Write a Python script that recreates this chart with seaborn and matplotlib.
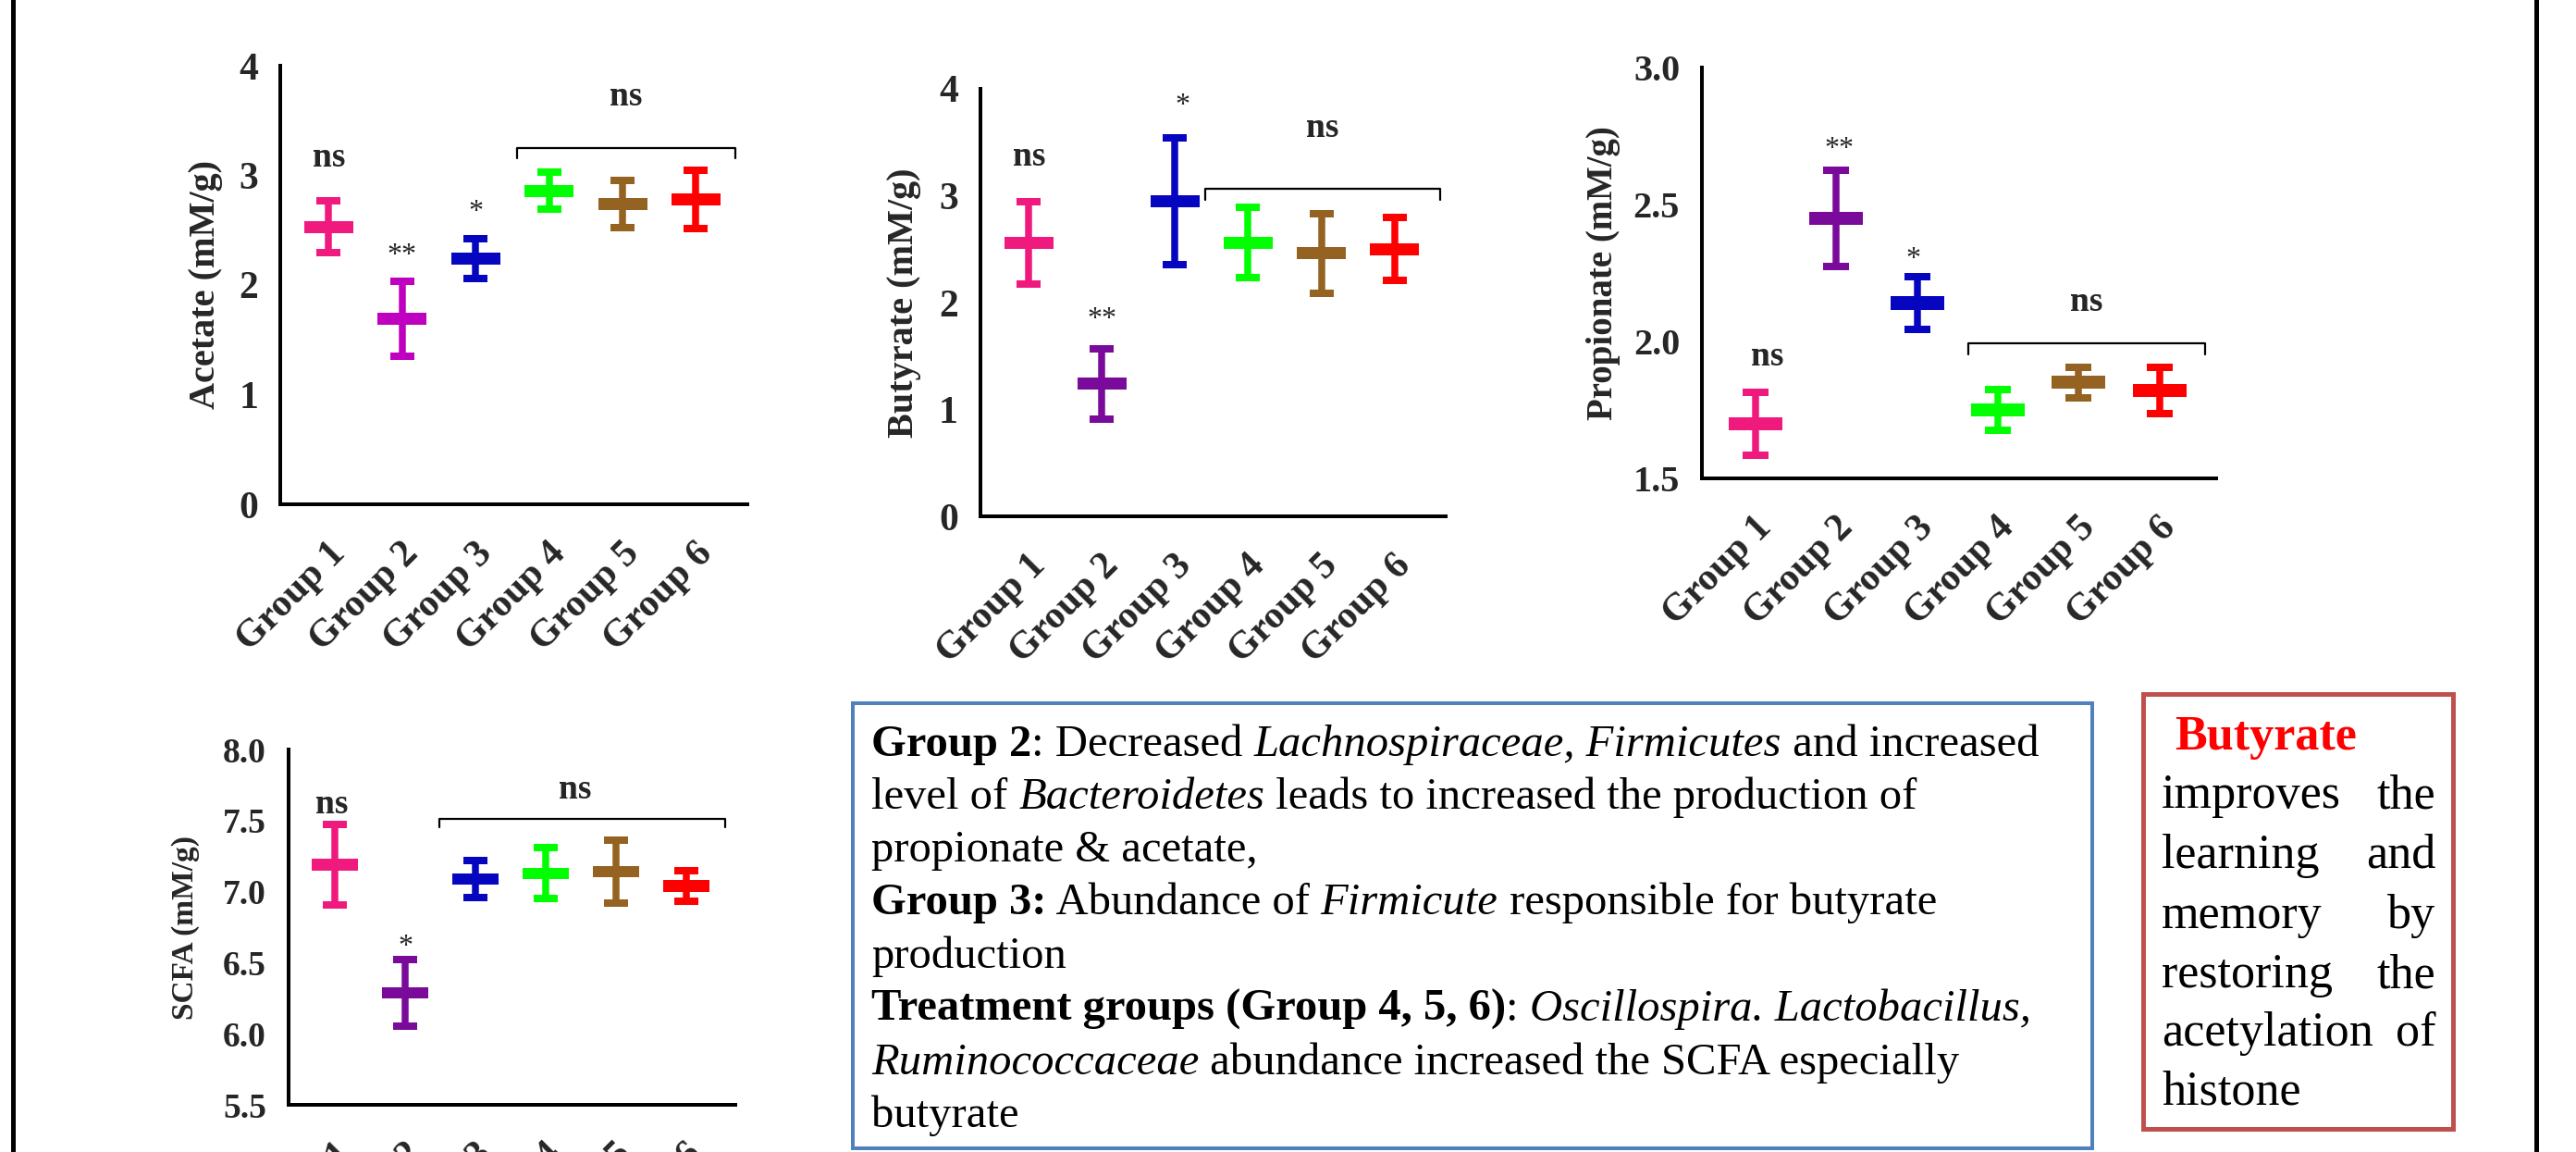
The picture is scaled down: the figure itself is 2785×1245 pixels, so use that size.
import numpy as np
import pandas as pd
import matplotlib
matplotlib.use("Agg")
import matplotlib.pyplot as plt
import seaborn as sns
from matplotlib.lines import Line2D
from matplotlib.patches import Rectangle
from matplotlib.transforms import ScaledTranslation

# ---------------- data ----------------
groups = ["Group 1", "Group 2", "Group 3", "Group 4", "Group 5", "Group 6"]

acetate_mean = [2.53, 1.69, 2.24, 2.86, 2.74, 2.78]
acetate_err = [0.235, 0.34, 0.18, 0.17, 0.215, 0.265]
acetate_colors = ["#F01A7E", "#C000C0", "#0606C0", "#00FF00", "#946221", "#FF0000"]

butyrate_mean = [2.56, 1.24, 2.95, 2.56, 2.46, 2.50]
butyrate_err = [0.385, 0.33, 0.595, 0.33, 0.375, 0.295]

propionate_mean = [1.70, 2.45, 2.14, 1.75, 1.85, 1.82]
propionate_err = [0.115, 0.175, 0.095, 0.075, 0.055, 0.085]

scfa_mean = [7.19, 6.29, 7.09, 7.13, 7.14, 7.04]
scfa_err = [0.285, 0.235, 0.13, 0.18, 0.22, 0.11]

purple_colors = ["#F01A7E", "#7A0A9A", "#0606C0", "#00FF00", "#946221", "#FF0000"]

acetate_yticks = [0, 1, 2, 3, 4]
butyrate_yticks = [0, 1, 2, 3, 4]
propionate_yticks = [1.5, 2.0, 2.5, 3.0]
scfa_yticks = [5.5, 6.0, 6.5, 7.0, 7.5, 8.0]

# significance labels: (x position index, y value, text)
acetate_sig = [(0, 3.16, "ns"), (1, 2.27, "**"), (2, 2.66, "*"), (4.05, 3.72, "ns")]
acetate_bracket = (2.56, 5.54, 3.25, 3.16)
butyrate_sig = [(0, 3.36, "ns"), (1, 1.84, "**"), (2.1, 3.84, "*"), (4.02, 3.63, "ns")]
butyrate_bracket = (2.41, 5.63, 3.065, 2.96)
propionate_sig = [(0.15, 1.943, "ns"), (1.04, 2.70, "**"), (1.95, 2.30, "*"), (4.10, 2.142, "ns")]
propionate_bracket = (2.63, 5.56, 1.993, 1.954)
scfa_sig = [(-0.04, 7.61, "ns"), (1.01, 6.61, "*"), (3.42, 7.72, "ns")]
scfa_bracket = (1.49, 5.56, 7.51, 7.45)

blue_lines = [
    [("Group 2", "b"), (": Decreased ", ""), ("Lachnospiraceae, Firmicutes", "i"), (" and increased", "")],
    [("level of ", ""), ("Bacteroidetes", "i"), (" leads to increased the production of", "")],
    [("propionate & acetate,", "")],
    [("Group 3:", "b"), (" Abundance of ", ""), ("Firmicute", "i"), (" responsible for butyrate", "")],
    [("production", "")],
    [("Treatment groups (Group 4, 5, 6)", "b"), (": ", ""), ("Oscillospira. Lactobacillus,", "i")],
    [("Ruminococcaceae", "i"), (" abundance increased the SCFA especially", "")],
    [("butyrate", "")],
]
red_title = "Butyrate"
red_lines = [["improves", "the"], ["learning", "and"], ["memory", "by"],
             ["restoring", "the"], ["acetylation", "of"], ["histone"]]

# ---------------- setup ----------------
sns.set_style("white")
plt.rcParams['font.family'] = ['Liberation Serif', 'DejaVu Serif']

W, H, DPI = 2785, 1245, 100
PT = 72.0 / DPI
fig = plt.figure(figsize=(W / DPI, H / DPI), dpi=DPI)
fig.patch.set_facecolor("white")


def px_rect(left, top, right, bottom):
    return [left / W, 1 - bottom / H, (right - left) / W, (bottom - top) / H]


BAR_MARKER = [(-2.05, -0.5), (2.05, -0.5), (2.05, 0.5), (-2.05, 0.5), (-2.05, -0.5)]
label_shift = ScaledTranslation(12 / DPI, 0, fig.dpi_scale_trans)


def panel(rect, means, errs, colors, ylim, yticks, yfmt, ylabel, sig, bracket,
          label_fs, ytick_fs, xtick_fs, bar_px, cap_px, labelpad, ns_fs=27, star_fs=23):
    ax = fig.add_axes(rect)
    df = pd.DataFrame({"group": groups, "mean": means, "err": errs})
    for g, m, e, c in zip(groups, means, errs, colors):
        ax.errorbar([g], [m], yerr=[e], fmt='none', ecolor=c, elinewidth=7.5 * PT,
                    capsize=cap_px / 2 * PT, capthick=8 * PT, zorder=2)
    sns.scatterplot(data=df, x="group", y="mean", hue="group",
                    palette=dict(zip(groups, colors)), marker=BAR_MARKER,
                    s=(bar_px * PT) ** 2, linewidth=0, edgecolor='none',
                    legend=False, ax=ax, zorder=3)
    ax.set_xlim(-0.66, 5.70)
    ax.set_ylim(*ylim)
    ax.set_yticks(yticks)
    ax.set_yticklabels([yfmt.format(v) for v in yticks], fontsize=ytick_fs, fontweight='bold')
    ax.set_xticks(range(len(groups)))
    ax.set_xticklabels(groups, fontsize=xtick_fs, fontweight='bold', rotation=45,
                       ha='right', va='center', rotation_mode='anchor')
    ax.set_xlabel("")
    ax.set_ylabel(ylabel, fontsize=label_fs, fontweight='bold', labelpad=labelpad)
    sns.despine(ax=ax)
    for s in ['left', 'bottom']:
        ax.spines[s].set_linewidth(4 * PT)
        ax.spines[s].set_color('black')
    ax.tick_params(axis='both', direction='out', length=19 * PT, width=4 * PT, color='black')
    ax.tick_params(axis='y', pad=5 * PT)
    ax.tick_params(axis='x', pad=29 * PT)
    for lab in ax.get_xticklabels():
        lab.set_transform(lab.get_transform() + label_shift)
    for x, y, t in sig:
        if t == "ns":
            ax.text(x, y, t, ha='center', va='center', fontsize=ns_fs, fontweight='bold')
        else:
            ax.text(x, y, t, ha='center', va='center', fontsize=star_fs)
    x0, x1, ytop, ytip = bracket
    ax.plot([x0, x0, x1, x1], [ytip, ytop, ytop, ytip], color='black', lw=1.6, clip_on=False)
    ax.patch.set_alpha(0)
    return ax


panel(px_rect(303, 71, 808, 545), acetate_mean, acetate_err, acetate_colors, (0, 4),
      acetate_yticks, "{:g}", "Acetate (mM/g)", acetate_sig, acetate_bracket,
      label_fs=29, ytick_fs=30, xtick_fs=30, bar_px=53, cap_px=26, labelpad=12)
panel(px_rect(1060, 96, 1563, 558), butyrate_mean, butyrate_err, purple_colors, (0, 4),
      butyrate_yticks, "{:g}", "Butyrate (mM/g)", butyrate_sig, butyrate_bracket,
      label_fs=29, ytick_fs=30, xtick_fs=30, bar_px=53, cap_px=26, labelpad=14)
panel(px_rect(1840, 73, 2396, 517), propionate_mean, propionate_err, purple_colors, (1.5, 3.0),
      propionate_yticks, "{:.1f}", "Propionate (mM/g)", propionate_sig, propionate_bracket,
      label_fs=28, ytick_fs=29, xtick_fs=30, bar_px=58, cap_px=28, labelpad=10)
panel(px_rect(312, 810, 795, 1194), scfa_mean, scfa_err, purple_colors, (5.5, 8.0),
      scfa_yticks, "{:.1f}", "SCFA (mM/g)", scfa_sig, scfa_bracket,
      label_fs=24, ytick_fs=27, xtick_fs=30, bar_px=50, cap_px=26, labelpad=18)

# ---------------- text boxes ----------------
fig.add_artist(Rectangle((922 / W, 1 - 1241 / H), (2262 - 922) / W, (1241 - 760) / H,
                         transform=fig.transFigure, fill=False, edgecolor="#4F81BD", lw=4 * PT))
fig.add_artist(Rectangle((2317 / W, 1 - 1220 / H), (2652 - 2317) / W, (1220 - 750) / H,
                         transform=fig.transFigure, fill=False, edgecolor="#C0504D", lw=5 * PT))

renderer = fig.canvas.get_renderer()


def style_kw(code, size, color='black'):
    return dict(fontsize=size, fontweight='bold' if 'b' in code else 'normal',
                fontstyle='italic' if 'i' in code else 'normal', color=color,
                family=['Liberation Serif', 'DejaVu Serif'])


def seg_width(txt, kw):
    t1 = fig.text(0, 0, txt + "|", **kw)
    t2 = fig.text(0, 0, "|", **kw)
    w = t1.get_window_extent(renderer).width - t2.get_window_extent(renderer).width
    t1.remove()
    t2.remove()
    return w


blue_baselines = [817, 874, 931, 988, 1046, 1103, 1161, 1218]
BLUE_FS = 35
for segs, yb in zip(blue_lines, blue_baselines):
    x = 942
    for txt, code in segs:
        kw = style_kw(code, BLUE_FS)
        fig.text(x / W, 1 - yb / H, txt, ha='left', va='baseline', **kw)
        x += seg_width(txt, kw)

RED_FS = 37.5
fig.text(2351 / W, 1 - 810 / H, red_title, ha='left', va='baseline',
         **style_kw('b', RED_FS, color='#FF0000'))
red_baselines = [873, 938, 1003, 1067, 1130, 1193]
for words, yb in zip(red_lines, red_baselines):
    kw = style_kw('', RED_FS)
    fig.text(2337 / W, 1 - yb / H, words[0], ha='left', va='baseline', **kw)
    if len(words) > 1:
        fig.text(2633 / W, 1 - yb / H, words[-1], ha='right', va='baseline', **kw)

# outer frame lines
for xp in (14, 2742):
    fig.add_artist(Line2D([xp / W, xp / W], [0, 1], transform=fig.transFigure,
                          color='black', lw=5 * PT))

fig.savefig("out.png", dpi=DPI)
